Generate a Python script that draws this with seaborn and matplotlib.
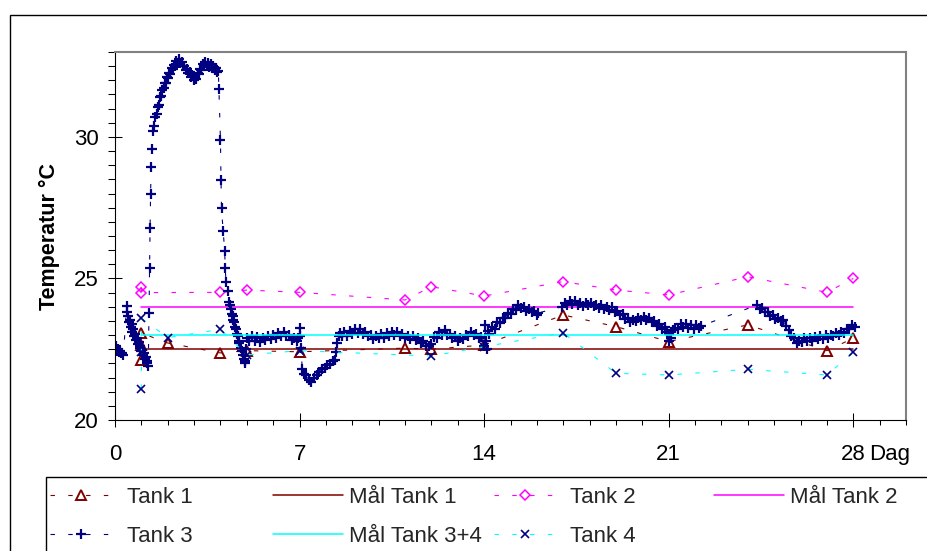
import matplotlib
matplotlib.use("Agg")
import matplotlib.pyplot as plt
from matplotlib.patches import Rectangle
from matplotlib.ticker import MultipleLocator
import seaborn as sns

# ---- measured series -------------------------------------------------------
tank1_day = [1, 1, 1, 2, 4, 5, 7, 11, 12, 14, 17, 19, 21, 24, 27, 28]
tank1_temp = [22.12, 22.65, 23.07, 22.72, 22.37, 22.45, 22.41, 22.54, 22.50,
              22.65, 23.71, 23.30, 22.77, 23.36, 22.45, 22.89]

tank2_day = [1, 1, 4, 5, 7, 11, 12, 14, 17, 19, 21, 24, 27, 28]
tank2_temp = [24.69, 24.50, 24.51, 24.59, 24.51, 24.24, 24.71, 24.38, 24.89,
              24.59, 24.42, 25.06, 24.51, 25.00]

tank4_day = [1, 1, 1, 2, 4, 5, 7, 12, 14, 17, 19, 21, 24, 27, 28]
tank4_temp = [21.10, 22.41, 23.59, 22.91, 23.20, 22.30, 22.45, 22.26, 22.59,
              23.08, 21.65, 21.59, 21.79, 21.59, 22.39]

# logger readings, tank 3
tank3_day = [
    0.00, 0.04, 0.08, 0.12, 0.16, 0.20, 0.24, 0.28, 0.32,
    0.44, 0.47, 0.50, 0.53, 0.56, 0.60, 0.63, 0.66, 0.70, 0.73, 0.76, 0.80,
    0.83, 0.86, 0.90, 0.93, 0.96, 1.00, 1.03, 1.06, 1.10, 1.13, 1.16, 1.20,
    1.23, 1.26,
    1.29, 1.31, 1.33, 1.35, 1.37, 1.40, 1.44, 1.48, 1.53, 1.58, 1.63, 1.67,
    1.71, 1.76, 1.80, 1.84, 1.88, 1.93, 1.97, 2.02, 2.06, 2.10, 2.15, 2.19,
    2.23, 2.28, 2.33, 2.38, 2.43, 2.48, 2.53, 2.58, 2.63, 2.68, 2.73, 2.78,
    2.83, 2.88, 2.93, 2.98, 3.03, 3.08, 3.13, 3.18, 3.23, 3.28, 3.33, 3.38,
    3.43, 3.48, 3.53, 3.58, 3.63, 3.68, 3.73, 3.78, 3.83, 3.88, 3.92,
    3.94, 4.00, 4.02, 4.04, 4.10, 4.16, 4.18, 4.21, 4.27, 4.33, 4.36, 4.40,
    4.43, 4.46, 4.49, 4.52, 4.55, 4.58, 4.62, 4.65, 4.69, 4.72, 4.76, 4.80,
    4.84, 4.88, 4.92, 4.94,
    4.97, 5.00, 5.10, 5.20, 5.30, 5.40, 5.50, 5.60, 5.70, 5.80, 5.90, 6.00,
    6.10, 6.20, 6.30, 6.40, 6.50, 6.60, 6.70, 6.80, 6.90, 6.95, 7.00, 7.03,
    7.06,
    7.10, 7.17, 7.25, 7.35, 7.45, 7.55, 7.65, 7.75, 7.85, 7.95, 8.05, 8.15,
    8.25, 8.35, 8.40, 8.43, 8.48,
    8.53, 8.60, 8.70, 8.80, 8.90, 9.00, 9.10, 9.20, 9.30, 9.40, 9.50, 9.60,
    9.70, 9.80, 9.90, 10.00, 10.10, 10.20, 10.30, 10.40, 10.50, 10.60, 10.70,
    10.80, 10.90, 11.00, 11.10, 11.20, 11.30, 11.40, 11.50, 11.60, 11.70,
    11.80, 11.90, 12.00, 12.10, 12.20, 12.30, 12.40, 12.50, 12.60, 12.70,
    12.80, 12.90, 13.00, 13.10, 13.20, 13.30, 13.40, 13.50, 13.60, 13.70,
    13.80, 13.90, 14.00, 14.03, 14.07, 14.10, 14.15, 14.20, 14.30, 14.40,
    14.50, 14.60, 14.70, 14.80, 14.90, 15.00, 15.10, 15.20, 15.30, 15.40,
    15.50, 15.60, 15.70, 15.80, 15.90, 16.00, 16.05,
    16.95, 17.05, 17.15, 17.25, 17.35, 17.45, 17.55, 17.65, 17.75, 17.85,
    17.95, 18.05, 18.15, 18.25, 18.35, 18.45, 18.55, 18.65, 18.75, 18.85,
    18.95, 19.05, 19.15, 19.25, 19.35, 19.45, 19.55, 19.65, 19.75, 19.85,
    19.95, 20.05, 20.15, 20.25, 20.35, 20.45, 20.55, 20.65, 20.75, 20.85,
    20.95, 21.00, 21.03, 21.08, 21.15, 21.25, 21.35, 21.45, 21.55, 21.65,
    21.75, 21.85, 21.95, 22.05, 22.15, 22.22,
    24.35, 24.45, 24.55, 24.65, 24.75, 24.85, 24.95, 25.05, 25.15, 25.25,
    25.35, 25.45, 25.55, 25.65, 25.75, 25.85, 25.95, 26.05, 26.15, 26.25,
    26.35, 26.45, 26.55, 26.65, 26.75, 26.85, 26.95, 27.05, 27.15, 27.25,
    27.35, 27.45, 27.55, 27.65, 27.75, 27.85, 27.95, 28.05,
]
tank3_temp = [
    22.55, 22.62, 22.45, 22.52, 22.40, 22.42, 22.35, 22.38, 22.30,
    24.02, 23.80, 23.68, 23.45, 23.55, 23.30, 23.38, 23.12, 23.22, 22.98,
    23.05, 22.82, 22.90, 22.68, 22.75, 22.55, 22.62, 22.42, 22.48, 22.28,
    22.35, 22.15, 22.22, 22.02, 22.08, 21.92,
    23.77, 25.37, 26.78, 27.98, 28.92, 29.58, 30.22, 30.40, 30.72, 30.80,
    31.05, 31.12, 31.40, 31.45, 31.65, 31.72, 31.90, 31.92, 32.10, 32.08,
    32.25, 32.22, 32.42, 32.40, 32.55, 32.52, 32.68, 32.62, 32.75, 32.62,
    32.65, 32.50, 32.52, 32.38, 32.40, 32.25, 32.30, 32.12, 32.18, 32.02,
    32.10, 32.05, 32.25, 32.22, 32.40, 32.38, 32.58, 32.55, 32.65, 32.52,
    32.60, 32.48, 32.58, 32.45, 32.52, 32.35, 32.42, 32.28, 32.32,
    31.68, 29.89, 28.48, 27.48, 26.69, 25.98, 25.36, 24.89, 24.55, 24.18,
    24.05, 23.92, 23.75, 23.68, 23.52, 23.45, 23.28, 23.20, 23.05, 22.95,
    22.80, 22.72, 22.55, 22.42, 22.28, 22.15, 22.02, 22.10,
    22.50, 22.88, 22.78, 22.95, 22.80, 22.92, 22.76, 22.90, 22.82, 22.95,
    22.85, 23.00, 22.90, 23.08, 22.98, 23.10, 22.95, 23.00, 22.82, 22.90,
    22.78, 22.88, 23.25, 22.95, 22.55,
    21.80, 21.62, 21.58, 21.42, 21.35, 21.48, 21.60, 21.68, 21.80, 21.82,
    21.95, 21.98, 22.10, 22.12, 22.40, 22.71, 22.95,
    23.06, 22.95, 23.12, 22.98, 23.15, 23.05, 23.20, 23.08, 23.22, 23.05,
    23.12, 22.95, 23.02, 22.85, 22.95, 22.88, 23.05, 22.90, 23.08, 22.98,
    23.10, 23.00, 23.12, 22.98, 23.05, 22.88, 22.98, 22.85, 22.95, 22.82,
    22.90, 22.72, 22.78, 22.60, 22.62, 22.68, 22.92, 22.88, 23.10, 23.02,
    23.18, 23.00, 23.05, 22.88, 22.95, 22.80, 22.88, 22.85, 23.00, 22.95,
    23.10, 23.00, 23.05, 22.88, 22.92, 22.60, 23.35, 22.80, 22.52, 23.15,
    23.05, 23.28, 23.22, 23.45, 23.42, 23.62, 23.60, 23.78, 23.75, 23.92,
    23.88, 24.05, 23.95, 24.00, 23.85, 23.92, 23.80, 23.85, 23.72, 23.78,
    24.00, 24.12, 24.05, 24.20, 24.10, 24.22, 24.08, 24.15, 24.02, 24.12,
    24.05, 24.15, 24.02, 24.08, 23.95, 24.05, 23.92, 24.00, 23.88, 23.98,
    23.82, 23.85, 23.72, 23.75, 23.58, 23.60, 23.45, 23.52, 23.48, 23.60,
    23.52, 23.65, 23.55, 23.60, 23.45, 23.48, 23.32, 23.38, 23.22, 23.28,
    23.12, 22.78, 23.05, 22.90, 23.18, 23.25, 23.20, 23.38, 23.30, 23.40,
    23.25, 23.35, 23.22, 23.35, 23.25, 23.32,
    24.06, 23.92, 23.95, 23.80, 23.82, 23.68, 23.70, 23.58, 23.62, 23.48,
    23.52, 23.32, 23.18, 22.98, 22.88, 22.72, 22.80, 22.75, 22.88, 22.78,
    22.90, 22.80, 22.92, 22.85, 22.95, 22.85, 23.00, 22.90, 23.02, 22.95,
    23.08, 23.00, 23.12, 23.08, 23.22, 23.20, 23.35, 23.30,
]

# ---- target temperatures -------------------------------------------------
target_days = [1, 28]
target_tank1 = 22.5
target_tank2 = 24.0
target_tank34 = 23.0

x_ticks = [0, 7, 14, 21, 28]
y_ticks = [20, 25, 30]

DARK_RED = "#800000"
MAGENTA = "#FF00FF"
NAVY = "#000080"
CYAN = "#00FFFF"

sns.set_theme(style="white")
plt.rcParams["font.family"] = ["Liberation Sans", "DejaVu Sans"]

W, H = 927, 551
fig = plt.figure(figsize=(W / 100, H / 100), dpi=100)
fig.patch.set_facecolor("white")
ax = fig.add_axes([115 / W, 1 - 420 / H, (906 - 115) / W, (420 - 52) / H])

handles = {}


def measured(days, temps, label, marker, edge, line_color, ms, mew):
    sns.lineplot(x=days, y=temps, ax=ax, estimator=None, sort=False,
                 errorbar=None, legend=False, color=line_color,
                 linestyle="--", linewidth=0.8, marker=marker,
                 markersize=ms, markeredgewidth=mew,
                 markerfacecolor="none", markeredgecolor=edge)
    line = ax.lines[-1]
    line.set_dashes([4, 12])
    handles[label] = line


def target(value, label, color):
    sns.lineplot(x=target_days, y=[value, value], ax=ax, estimator=None,
                 sort=False, errorbar=None, legend=False, color=color,
                 linewidth=1.1)
    handles[label] = ax.lines[-1]


measured(tank1_day, tank1_temp, "Tank 1", "^", DARK_RED, DARK_RED, 7.0, 1.4)
target(target_tank1, "Mål Tank 1", DARK_RED)
measured(tank2_day, tank2_temp, "Tank 2", "D", MAGENTA, MAGENTA, 5.0, 1.1)
target(target_tank2, "Mål Tank 2", MAGENTA)
measured(tank3_day, tank3_temp, "Tank 3", "+", NAVY, NAVY, 7.5, 1.6)
target(target_tank34, "Mål Tank 3+4", CYAN)
measured(tank4_day, tank4_temp, "Tank 4", "x", NAVY, CYAN, 6.0, 1.2)

# ---- axes ------------------------------------------------------------------
ax.set_xlim(0, 30)
ax.set_ylim(20, 33)
ax.set_xticks(x_ticks)
ax.set_xticklabels([str(t) for t in x_ticks])
ax.set_yticks(y_ticks)
ax.set_yticklabels([str(t) for t in y_ticks])
ax.xaxis.set_minor_locator(MultipleLocator(1))
ax.yaxis.set_minor_locator(MultipleLocator(0.5))
ax.tick_params(which="major", direction="inout", length=9.4, width=0.75,
               color="black", labelsize=16, labelcolor="black")
ax.tick_params(axis="x", which="major", pad=12.5)
ax.tick_params(axis="y", which="major", pad=7)
ax.tick_params(axis="x", which="minor", direction="out", length=3.8,
               width=0.75, color="black")
ax.tick_params(axis="y", which="minor", direction="out", length=4.8,
               width=0.75, color="black")
ax.tick_params(bottom=True, left=True, top=False, right=False)
ax.tick_params(which="minor", bottom=True, left=True, top=False, right=False)
ax.grid(False)

for side in ("left", "bottom"):
    ax.spines[side].set_color("black")
    ax.spines[side].set_linewidth(0.8)
for side in ("top", "right"):
    ax.spines[side].set_color("#808080")
    ax.spines[side].set_linewidth(1.5)

ax.set_ylabel("Temperatur °C", fontsize=15.5, fontweight="bold",
              color="black")
ax.yaxis.set_label_coords(-0.07, 0.5)
ax.set_xlabel("Dag", fontsize=16, color="black")
ax.xaxis.label.set_horizontalalignment("left")
ax.xaxis.set_label_coords((869 - 115) / 791, -0.066)

# ---- outer frame and legend box --------------------------------------------
frame_top = 1 - 15 / H
fig.add_artist(Rectangle((10 / W, -0.2), 1.2, frame_top + 0.2,
                         transform=fig.transFigure, fill=False,
                         edgecolor="black", linewidth=1.0))
box_top = 1 - 477 / H
fig.add_artist(Rectangle((46 / W, -0.2), 1.2, box_top + 0.2,
                         transform=fig.transFigure, fill=False,
                         edgecolor="black", linewidth=1.0))

FS = 16
px_em = FS * 100 / 72
columns = [
    (["Tank 1", "Tank 3"], 50, 62, 15),
    (["Mål Tank 1", "Mål Tank 3+4"], 273, 70, 6),
    (["Tank 2", "Tank 4"], 494, 62, 14),
    (["Mål Tank 2"], 714, 70, 6),
]
for labels, x0, hlen_px, hpad_px in columns:
    fig.legend([handles[l] for l in labels], labels, loc="upper left",
               bbox_to_anchor=(x0 / W, 1 - 487 / H), frameon=False,
               fontsize=FS, handlelength=hlen_px / px_em,
               handletextpad=hpad_px / px_em, labelspacing=0.82,
               borderpad=0, borderaxespad=0, numpoints=1)

fig.savefig("out.png", dpi=100, facecolor="white")
